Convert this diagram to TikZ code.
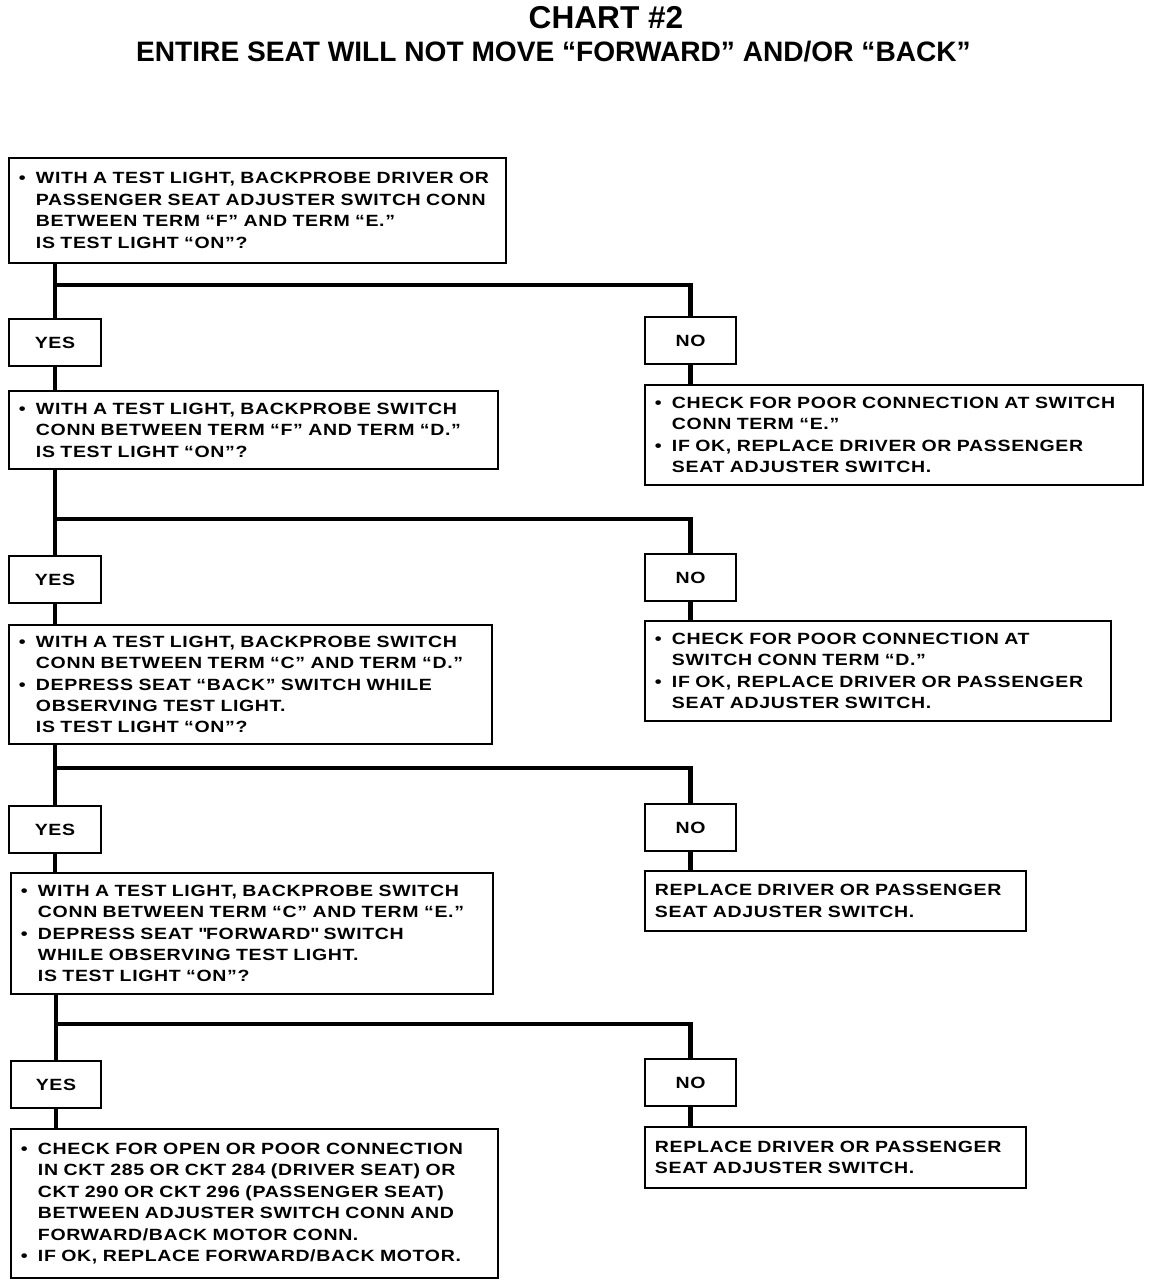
\documentclass[tikz,border=0pt]{standalone}
\usepackage{fontspec}
\setmainfont{Liberation Sans}
\newfontfamily\chartfont{Liberation Sans}[Ligatures=TeX,FakeStretch=1.2,LetterSpace=4]
\usetikzlibrary{positioning}
\newcommand{\bul}{\makebox[0.34cm][l]{\textbullet}}
\newcommand{\ind}{\hspace*{0.34cm}}

\begin{document}
\begin{tikzpicture}[
box/.style={draw,line width=1.1pt,anchor=north west,align=left,inner xsep=0.2cm,inner ysep=2pt,font=\chartfont\bfseries\fontsize{9.25}{12.2}\selectfont},
ans/.style={draw,line width=1.1pt,anchor=north west,minimum width=1.84cm,minimum height=0.94cm,inner sep=0pt,font=\chartfont\bfseries\fontsize{9.25}{12.2}\selectfont},
flow/.style={line width=2.3pt}]
\useasboundingbox (0,0) rectangle (23.04,-25.76);
\node[font=\bfseries\fontsize{18}{20}\selectfont] (title) at (12.12,-0.36) {CHART \#2};
\node[font=\bfseries\fontsize{16}{18}\selectfont] (subtitle) at (11.07,-1.04) {ENTIRE SEAT WILL NOT MOVE ``FORWARD'' AND/OR ``BACK''};
% first check
\node[box,text width=9.54cm,minimum height=2.10cm] (test1) at (0.16,-3.14) {\bul WITH A TEST LIGHT, BACKPROBE DRIVER OR\\\ind PASSENGER SEAT ADJUSTER SWITCH CONN\\\ind BETWEEN TERM ``F'' AND TERM ``E.''\\\ind IS TEST LIGHT ``ON''?};
\node[ans] (yes1) at (0.16,-6.36) {YES};
\node[ans,minimum width=1.82cm] (no1) at (12.88,-6.32) {NO};
\node[box,text width=9.56cm,minimum height=2.00cm] (fix1) at (12.88,-7.68) {\bul CHECK FOR POOR CONNECTION AT SWITCH\\\ind CONN TERM ``E.''\\\bul IF OK, REPLACE DRIVER OR PASSENGER\\\ind SEAT ADJUSTER SWITCH.};
% second check
\node[box,text width=9.38cm,minimum height=1.56cm] (test2) at (0.16,-7.80) {\bul WITH A TEST LIGHT, BACKPROBE SWITCH\\\ind CONN BETWEEN TERM ``F'' AND TERM ``D.''\\\ind IS TEST LIGHT ``ON''?};
\node[ans] (yes2) at (0.16,-11.10) {YES};
\node[ans,minimum width=1.82cm] (no2) at (12.88,-11.06) {NO};
\node[box,text width=8.92cm,minimum height=2.00cm] (fix2) at (12.88,-12.40) {\bul CHECK FOR POOR CONNECTION AT\\\ind SWITCH CONN TERM ``D.''\\\bul IF OK, REPLACE DRIVER OR PASSENGER\\\ind SEAT ADJUSTER SWITCH.};
% third check
\node[box,text width=9.26cm,minimum height=2.38cm] (test3) at (0.16,-12.48) {\bul WITH A TEST LIGHT, BACKPROBE SWITCH\\\ind CONN BETWEEN TERM ``C'' AND TERM ``D.''\\\bul DEPRESS SEAT ``BACK'' SWITCH WHILE\\\ind OBSERVING TEST LIGHT.\\\ind IS TEST LIGHT ``ON''?};
\node[ans] (yes3) at (0.16,-16.10) {YES};
\node[ans,minimum width=1.82cm] (no3) at (12.88,-16.06) {NO};
\node[box,text width=7.22cm,minimum height=1.20cm] (fix3) at (12.88,-17.40) {REPLACE DRIVER OR PASSENGER\\SEAT ADJUSTER SWITCH.};
% fourth check
\node[box,text width=9.24cm,minimum height=2.42cm] (test4) at (0.20,-17.44) {\bul WITH A TEST LIGHT, BACKPROBE SWITCH\\\ind CONN BETWEEN TERM ``C'' AND TERM ``E.''\\\bul DEPRESS SEAT \textquotedbl FORWARD\textquotedbl\ SWITCH\\\ind WHILE OBSERVING TEST LIGHT.\\\ind IS TEST LIGHT ``ON''?};
\node[ans,minimum width=1.80cm] (yes4) at (0.20,-21.20) {YES};
\node[ans,minimum width=1.82cm] (no4) at (12.88,-21.16) {NO};
\node[box,text width=7.22cm,minimum height=1.22cm] (fix4) at (12.88,-22.52) {REPLACE DRIVER OR PASSENGER\\SEAT ADJUSTER SWITCH.};
\node[box,text width=9.34cm,minimum height=2.98cm] (test5) at (0.20,-22.56) {\bul CHECK FOR OPEN OR POOR CONNECTION\\\ind IN CKT 285 OR CKT 284 (DRIVER SEAT) OR\\\ind CKT 290 OR CKT 296 (PASSENGER SEAT)\\\ind BETWEEN ADJUSTER SWITCH CONN AND\\\ind FORWARD/BACK MOTOR CONN.\\\bul IF OK, REPLACE FORWARD/BACK MOTOR.};
% branch points
\coordinate (split1) at (0,-5.70);
\coordinate (split2) at (0,-10.38);
\coordinate (split3) at (0,-15.36);
\coordinate (split4) at (0,-20.48);
\draw[flow] (test1.south -| yes1) -- (yes1.north);
\draw[flow] (split1 -| yes1) -| (no1.north);
\draw[flow] (yes1.south) -- (yes1.south |- test2.north);
\draw[flow] (no1.south) -- (no1.south |- fix1.north);
\draw[flow] (test2.south -| yes2) -- (yes2.north);
\draw[flow] (split2 -| yes2) -| (no2.north);
\draw[flow] (yes2.south) -- (yes2.south |- test3.north);
\draw[flow] (no2.south) -- (no2.south |- fix2.north);
\draw[flow] (test3.south -| yes3) -- (yes3.north);
\draw[flow] (split3 -| yes3) -| (no3.north);
\draw[flow] (yes3.south) -- (yes3.south |- test4.north);
\draw[flow] (no3.south) -- (no3.south |- fix3.north);
\draw[flow] (test4.south -| yes4) -- (yes4.north);
\draw[flow] (split4 -| yes4) -| (no4.north);
\draw[flow] (yes4.south) -- (yes4.south |- test5.north);
\draw[flow] (no4.south) -- (no4.south |- fix4.north);
\end{tikzpicture}
\end{document}
